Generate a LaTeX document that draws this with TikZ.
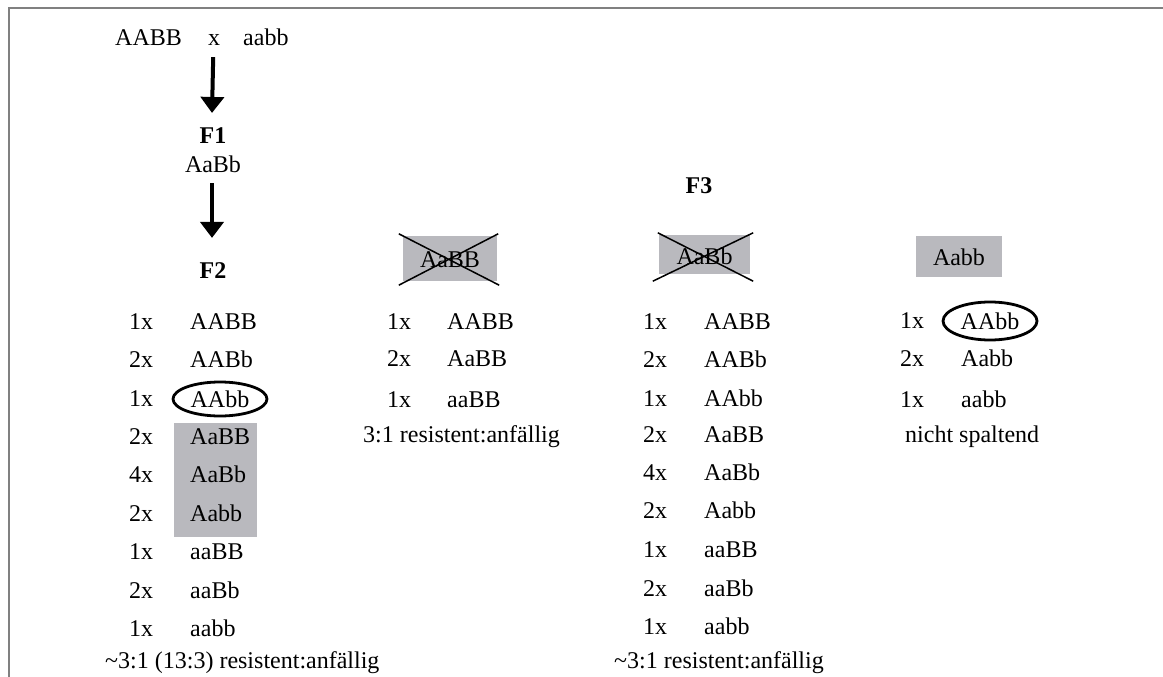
\documentclass[tikz,border=0pt]{standalone}
\usepackage{fontspec}
\setmainfont{Liberation Serif}
\usetikzlibrary{arrows.meta,shapes.geometric,calc}
\definecolor{boxgray}{RGB}{185,185,190}
\definecolor{framegray}{RGB}{128,128,128}
\tikzset{
  txt/.style={inner sep=0pt, anchor=base west, font=\fontsize{24}{28}\selectfont},
  hdr/.style={inner sep=0pt, anchor=base, font=\fontsize{24}{28}\selectfont\bfseries},
  bigarrow/.style={line width=4pt, -{Triangle[width=23pt,length=16pt]}},
  graybox/.style={fill=boxgray, inner sep=0pt, font=\fontsize{24}{28}\selectfont},
  circled/.style={draw, ellipse, line width=2.8pt, inner sep=0pt, font=\fontsize{24}{28}\selectfont},
  crossline/.style={line width=1.5pt}
}
\begin{document}
\begin{tikzpicture}[x=1pt,y=-1pt]
\useasboundingbox (0,0) rectangle (1163,677);
% frame
\draw[framegray, line width=2pt] (8.5,677) -- (8.5,8.5) -- (1163,8.5);

% parents
\node[txt] (p1) at (115,46) {AABB};
\node[txt] (px) at (208,46) {x};
\node[txt] (p2) at (243,46) {aabb};
\node[hdr] (f1) at (213,143) {F1};
\node[hdr, font=\fontsize{24}{28}\selectfont] (f1g) at (213,172) {AaBb};
\node[hdr] (f2) at (213,278) {F2};
\draw[bigarrow] ($(px.south)+(-1,11)$) -- ($(f1.north)+(-1,-14)$);
\draw[bigarrow] ($(f1g.south)+(-1,11)$) -- ($(f2.north)+(-1,-24)$);

% column 1 (F2)
\fill[boxgray] (174,423) rectangle (257,537);
\node[txt] (a1) at (129,329) {1x};  \node[txt] (b1) at (190,329) {AABB};
\node[txt] (a2) at (129,367) {2x};  \node[txt] (b2) at (190,367) {AABb};
\node[txt] (a3) at (129,406) {1x};
\node[circled, minimum width=94pt, minimum height=34pt] (b3) at (220,399) {AAbb};
\node[txt] (a4) at (129,444) {2x};  \node[txt] (b4) at (190,444) {AaBB};
\node[txt] (a5) at (129,482) {4x};  \node[txt] (b5) at (190,482) {AaBb};
\node[txt] (a6) at (129,521) {2x};  \node[txt] (b6) at (190,521) {Aabb};
\node[txt] (a7) at (129,559) {1x};  \node[txt] (b7) at (190,559) {aaBB};
\node[txt] (a8) at (129,598) {2x};  \node[txt] (b8) at (190,598) {aaBb};
\node[txt] (a9) at (129,636) {1x};  \node[txt] (b9) at (190,636) {aabb};
\node[txt] (r1) at (105,668) {\textasciitilde 3:1 (13:3) resistent:anfällig};

% column 2
\node[graybox, minimum width=94pt, minimum height=45pt, text height=17pt, text depth=0pt] (h2) at (450,258.5) {AaBB};
\draw[crossline] ($(h2.north west)+(-4,-2)$) -- ($(h2.south east)+(2,4)$);
\draw[crossline] ($(h2.south west)+(-4,4)$) -- ($(h2.north east)+(1,-2)$);
\node[txt] (c1) at (387,329) {1x};  \node[txt] (d1) at (447,329) {AABB};
\node[txt] (c2) at (387,366) {2x};  \node[txt] (d2) at (447,366) {AaBB};
\node[txt] (c3) at (387,407) {1x};  \node[txt] (d3) at (447,407) {aaBB};
\node[txt] (r2) at (363,442) {3:1 resistent:anfällig};

% column 3
\node[hdr] (f3) at (699,193) {F3};
\node[graybox, minimum width=91pt, minimum height=39pt, text height=19pt, text depth=0pt] (h3) at (704.5,254.5) {AaBb};
\draw[crossline] ($(h3.north west)+(-1,-2)$) -- ($(h3.south east)+(3,7)$);
\draw[crossline] ($(h3.south west)+(-6,7)$) -- ($(h3.north east)+(3,-2)$);
\node[txt] (e1) at (643,329) {1x};  \node[txt] (g1) at (704,329) {AABB};
\node[txt] (e2) at (643,367) {2x};  \node[txt] (g2) at (704,367) {AABb};
\node[txt] (e3) at (643,406) {1x};  \node[txt] (g3) at (704,406) {AAbb};
\node[txt] (e4) at (643,442) {2x};  \node[txt] (g4) at (704,442) {AaBB};
\node[txt] (e5) at (643,480) {4x};  \node[txt] (g5) at (704,480) {AaBb};
\node[txt] (e6) at (643,518) {2x};  \node[txt] (g6) at (704,518) {Aabb};
\node[txt] (e7) at (643,557) {1x};  \node[txt] (g7) at (704,557) {aaBB};
\node[txt] (e8) at (643,596) {2x};  \node[txt] (g8) at (704,596) {aaBb};
\node[txt] (e9) at (643,634) {1x};  \node[txt] (g9) at (704,634) {aabb};
\node[txt] (r3) at (614,668) {\textasciitilde 3:1 resistent:anfällig};

% column 4
\node[graybox, minimum width=86pt, minimum height=41pt, text height=17pt, text depth=0pt] (h4) at (959,256.5) {Aabb};
\node[txt] (k1) at (900,328) {1x};
\node[circled, minimum width=94pt, minimum height=38pt] (m1) at (990,321) {AAbb};
\node[txt] (k2) at (900,366) {2x};  \node[txt] (m2) at (961,366) {Aabb};
\node[txt] (k3) at (900,407) {1x};  \node[txt] (m3) at (961,407) {aabb};
\node[txt] (r4) at (905,442) {nicht spaltend};
\end{tikzpicture}
\end{document}
